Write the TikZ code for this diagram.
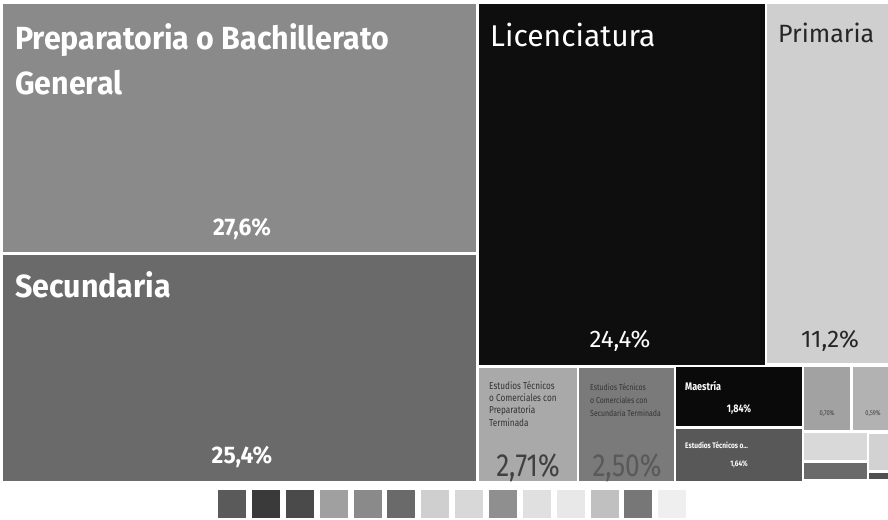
\documentclass[tikz,border=0pt]{standalone}
\usepackage{fontspec}
\setmainfont{Fira Sans}
\newfontfamily\narrowf[FakeStretch=0.82]{Fira Sans}
\newfontfamily\boldnarrow[FakeStretch=0.95]{Fira Sans}
\definecolor{cPrep}{HTML}{8A8A8A}
\definecolor{cSec}{HTML}{6A6A6A}
\definecolor{cLic}{HTML}{0E0E0E}
\definecolor{cPrim}{HTML}{CFCFCF}
\definecolor{cEtA}{HTML}{A9A9A9}
\definecolor{cEtB}{HTML}{7A7A7A}
\definecolor{cMae}{HTML}{0A0A0A}
\definecolor{cEtC}{HTML}{585858}
\definecolor{cSmA}{HTML}{A2A2A2}
\definecolor{cSmB}{HTML}{B2B2B2}
\definecolor{cSmC}{HTML}{D9D9D9}
\definecolor{cSmD}{HTML}{6A6A6A}
\definecolor{cSmE}{HTML}{D2D2D2}
\definecolor{cSmF}{HTML}{505050}
\definecolor{lgA}{HTML}{5A5A5A}
\definecolor{lgB}{HTML}{3A3A3A}
\definecolor{lgC}{HTML}{4A4A4A}
\definecolor{lgD}{HTML}{A0A0A0}
\definecolor{lgE}{HTML}{8A8A8A}
\definecolor{lgF}{HTML}{6A6A6A}
\definecolor{lgG}{HTML}{CFCFCF}
\definecolor{lgH}{HTML}{D8D8D8}
\definecolor{lgI}{HTML}{8F8F8F}
\definecolor{lgJ}{HTML}{E0E0E0}
\definecolor{lgK}{HTML}{E8E8E8}
\definecolor{lgL}{HTML}{C0C0C0}
\definecolor{lgM}{HTML}{777777}
\definecolor{lgN}{HTML}{EFEFEF}
\begin{document}
\begin{tikzpicture}[x=1pt,y=-1pt,
  bigtitle/.style={anchor=base west,inner sep=0pt,text=white,font=\boldnarrow\bfseries\fontsize{32}{36}\selectfont},
  plaintitle/.style={anchor=base west,inner sep=0pt,text=white,font=\fontsize{30}{36}\selectfont},
  pct/.style={anchor=base,inner sep=0pt,text=white,font=\boldnarrow\bfseries\fontsize{24}{28}\selectfont},
  pctreg/.style={anchor=base,inner sep=0pt,text=white,font=\fontsize{24}{28}\selectfont},
  smalltxt/.style={anchor=base west,inner sep=0pt,text=black!80,align=left,font=\narrowf\fontsize{10}{12.3}\selectfont},
  midpct/.style={anchor=base,inner sep=0pt,text=black!75,font=\narrowf\fontsize{32}{36}\selectfont},
  whitesmall/.style={anchor=base west,inner sep=0pt,text=white,font=\narrowf\bfseries\fontsize{11}{13}\selectfont},
  tinypct/.style={anchor=base,inner sep=0pt,text=black!75,font=\narrowf\fontsize{7}{8}\selectfont},
  legendsq/.style={minimum width=28pt,minimum height=28pt,inner sep=0pt,anchor=north west}
]
\useasboundingbox (0,0) rectangle (888,519);
\fill[white] (0,0) rectangle (888,519);
% blocks
\fill[cPrep] (3,4) rectangle (476,252);
\fill[cSec] (3,255) rectangle (476,481);
\fill[cLic] (479,4) rectangle (765,365);
\fill[cPrim] (767,4) rectangle (893,363);
\fill[cEtA] (479,368) rectangle (577,481);
\fill[cEtB] (579,368) rectangle (674,481);
\fill[cMae] (676,367) rectangle (802,426);
\fill[cEtC] (676,429) rectangle (802,481);
\fill[cSmA] (804,367) rectangle (850,430);
\fill[cSmB] (853,367) rectangle (893,430);
\fill[cSmC] (804,433) rectangle (867,460);
\fill[cSmD] (804,463) rectangle (867,479);
\fill[cSmE] (869,434) rectangle (893,470);
\fill[cSmF] (869,473) rectangle (893,479);
% labels
\node[bigtitle] (prepA) at (15,50) {Preparatoria o Bachillerato};
\node[bigtitle] (prepB) at (15,94) {General};
\node[pct] (prepP) at (242,235) {27,6\%};
\node[bigtitle] (sec) at (15,297) {Secundaria};
\node[pct] (secP) at (242,463) {25,4\%};
\node[plaintitle] (lic) at (490,47) {Licenciatura};
\node[pctreg] (licP) at (620,347) {24,4\%};
\node[plaintitle,text=black!85,font=\fontsize{25}{30}\selectfont] (prim) at (778,42) {Primaria};
\node[pctreg,text=black!85] (primP) at (830,347) {11,2\%};
\node[smalltxt] (etA1) at (489,389) {Estudios Técnicos};
\node[smalltxt] (etA2) at (489,401) {o Comerciales con};
\node[smalltxt] (etA3) at (489,413) {Preparatoria};
\node[smalltxt] (etA4) at (489,426) {Terminada};
\node[midpct] (etAP) at (528,476) {2,71\%};
\node[smalltxt,font=\narrowf\fontsize{8.5}{10}\selectfont] (etB1) at (590,390) {Estudios Técnicos};
\node[smalltxt,font=\narrowf\fontsize{8.5}{10}\selectfont] (etB2) at (590,403) {o Comerciales con};
\node[smalltxt,font=\narrowf\fontsize{8.5}{10}\selectfont] (etB3) at (590,416) {Secundaria Terminada};
\node[midpct,text=black!65] (etBP) at (627,476) {2,50\%};
\node[whitesmall] (mae) at (685,390) {Maestría};
\node[whitesmall,anchor=base] (maeP) at (739,412) {1,84\%};
\node[whitesmall,font=\narrowf\bfseries\fontsize{8}{9}\selectfont] (etC) at (685,448) {Estudios Técnicos o...};
\node[whitesmall,anchor=base,font=\narrowf\bfseries\fontsize{8}{9}\selectfont] (etCP) at (739,466) {1,64\%};
\node[tinypct] (smA) at (827,415) {0,70\%};
\node[tinypct] (smB) at (873,415) {0,59\%};
% legend
\foreach \c [count=\i from 0] in {lgA,lgB,lgC,lgD,lgE,lgF,lgG,lgH,lgI,lgJ,lgK,lgL,lgM,lgN}
  \node[legendsq,fill=\c] (leg\i) at (218+33.85*\i,490) {};
\end{tikzpicture}
\end{document}
